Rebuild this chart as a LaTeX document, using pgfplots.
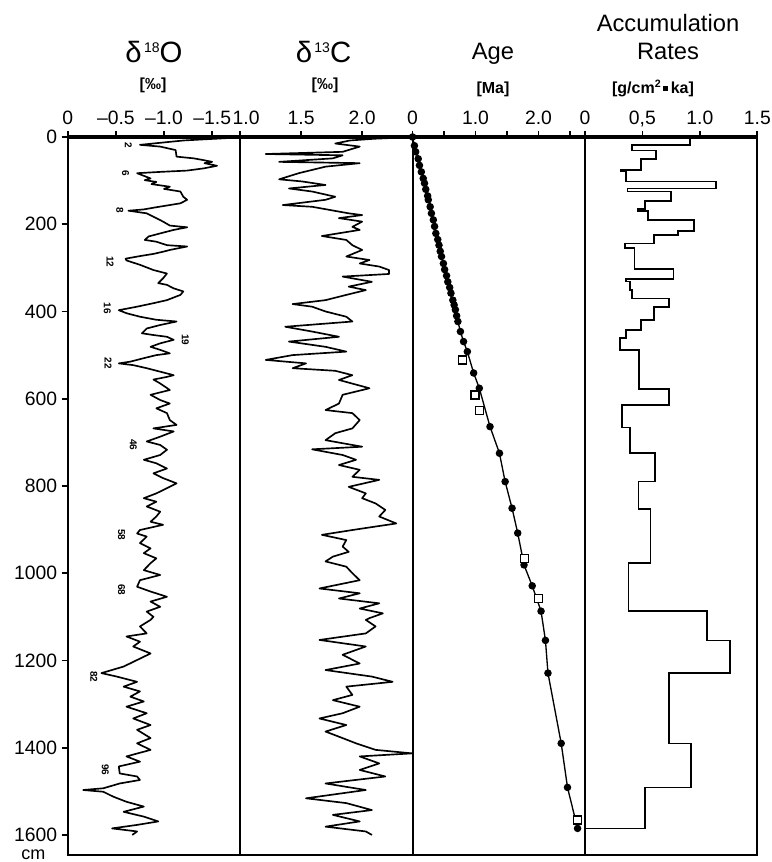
\documentclass[border=0pt]{standalone}
\usepackage{fontspec}
\setmainfont{Liberation Sans}
\usepackage{pgfplots}
\pgfplotsset{compat=1.18}
\begin{document}
\begin{tikzpicture}[x=1pt,y=1pt]
\useasboundingbox (0,0) rectangle (578.25,646.5);
\pgfplotsset{
  panel/.style={
    scale only axis, width=129.3pt, height=538.5pt,
    anchor=north west,
    y dir=reverse, ymin=0, ymax=1646,
    axis line style={line width=1.5pt},
    xtick pos=right, xticklabel pos=right,
    tick align=outside, major tick length=4.5pt,
    every tick/.style={black, line width=1.3pt},
    ticklabel style={font=\fontsize{14.5}{17}\selectfont},
    xticklabel style={text depth=3.6pt, yshift=-2.1pt},
    scaled ticks=false,
    ytick=\empty,
  },
  curve/.style={black, line width=1.25pt, line join=round, no marks},
}
% ---- delta 18O ----
\begin{axis}[panel, at={(50.8pt,543.75pt)},
  x dir=reverse, xmin=-1.79, xmax=0,
  xtick={0,-0.5,-1,-1.5}, xticklabels={0,\textendash0.5,\textendash1.0,\textendash1.5},
  ytick={0,200,400,600,800,1000,1200,1400,1600},
  yticklabels={0,200,400,600,800,1000,1200,1400,1600},
  ytick pos=left, yticklabel pos=left]
\addplot[curve] coordinates {
(-1.70,2) (-1.20,8) (-0.75,18) (-0.96,22) (-1.12,30) (-1.13,45) (-1.31,49) (-1.41,53) (-1.50,57) (-1.42,60) (-1.55,66) (-1.41,72) (-1.24,77) (-0.96,80) (-0.72,83)
(-0.86,95) (-0.80,99) (-0.92,103) (-0.87,108) (-1.06,114) (-1.00,119) (-1.17,125) (-1.20,137) (-1.24,144) (-1.17,152) (-1.06,156) (-0.92,161) (-0.79,166) (-0.63,169)
(-0.82,175) (-0.92,186) (-0.99,194) (-1.06,203) (-1.24,207) (-1.10,213) (-0.96,221) (-0.84,228) (-0.80,236) (-0.92,240) (-1.03,248) (-1.24,251) (-1.06,259) (-0.99,263) (-0.89,268) (-0.75,273) (-0.60,279) (-0.61,283) (-0.75,293) (-0.89,305) (-0.96,309) (-1.03,313) (-0.99,324) (-0.94,335) (-1.03,339) (-1.10,347) (-1.20,354) (-1.17,362) (-1.03,374) (-0.89,381) (-0.72,389) (-0.53,397) (-0.61,404) (-0.75,412) (-0.92,419) (-1.13,423) (-0.96,431) (-0.82,439) (-0.77,450) (-0.89,454) (-1.03,458) (-1.10,465) (-0.96,473) (-0.86,481) (-0.96,488) (-1.06,496) (-0.92,500) (-0.79,507) (-0.65,515) (-0.53,519) (-0.68,523) (-0.82,530) (-0.96,538) (-1.10,546) (-1.03,550) (-0.89,556)
(-0.96,565) (-1.06,580) (-0.86,591) (-0.96,603) (-1.06,611) (-0.92,622) (-1.03,633) (-1.06,649) (-1.13,660) (-0.89,668) (-1.10,675) (-0.96,687) (-0.82,698) (-0.96,706) (-1.03,717) (-0.96,729) (-0.79,740) (-0.92,748) (-1.03,760) (-0.89,771) (-0.99,782) (-1.13,794) (-1.03,805) (-0.92,817) (-0.79,828) (-0.92,836) (-0.82,847) (-0.96,859) (-0.92,870) (-0.86,882) (-0.99,889) (-0.75,901) (-0.72,909) (-0.82,916) (-0.75,931) (-0.86,943) (-0.79,954) (-0.92,966) (-0.86,977) (-0.79,993) (-0.96,1004) (-0.75,1016) (-0.72,1031) (-0.86,1042) (-1.03,1054) (-0.86,1065) (-0.96,1077) (-0.82,1088) (-0.89,1100)
(-0.86,1107) (-0.75,1122) (-0.82,1138) (-0.61,1145) (-0.75,1157) (-0.68,1168) (-0.86,1184) (-0.72,1199) (-0.58,1214) (-0.35,1229) (-0.51,1237) (-0.72,1249) (-0.58,1260) (-0.75,1271) (-0.65,1283) (-0.79,1294) (-0.61,1306) (-0.82,1321) (-0.68,1333) (-0.86,1348) (-0.72,1359) (-0.86,1378) (-0.72,1390) (-0.86,1405) (-0.61,1420) (-0.75,1432) (-0.53,1443) (-0.54,1459) (-0.72,1466) (-0.75,1474) (-0.54,1482) (-0.37,1493) (-0.16,1497) (-0.37,1501) (-0.47,1512) (-0.61,1524) (-0.79,1535) (-0.58,1547) (-0.79,1558) (-0.94,1569) (-0.72,1577) (-0.46,1585) (-0.72,1592) (-0.67,1600)
};
\begin{scope}[every node/.style={rotate=-90, font=\fontsize{7.5}{9}\selectfont\bfseries, inner sep=0pt}]
\node at (axis cs:-0.63,18) {2};
\node at (axis cs:-0.60,83) {6};
\node at (axis cs:-0.54,167) {8};
\node at (axis cs:-0.44,286) {12};
\node at (axis cs:-0.41,393) {16};
\node at (axis cs:-1.22,465) {19};
\node at (axis cs:-0.42,519) {22};
\node at (axis cs:-0.68,706) {46};
\node at (axis cs:-0.56,912) {58};
\node at (axis cs:-0.56,1038) {68};
\node at (axis cs:-0.27,1237) {82};
\node at (axis cs:-0.39,1451) {96};
\end{scope}
\end{axis}
% ---- delta 13C ----
\begin{axis}[panel, at={(180.1pt,543.75pt)},
  xmin=1.0, xmax=2.413,
  xtick={1,1.5,2}, xticklabels={\hspace*{9pt}1.0,1.5,2.0}]
\addplot[curve] coordinates {
(2.35,1) (2.10,4) (1.90,8) (1.78,15) (1.98,22) (1.84,34) (1.21,39) (1.84,42) (1.76,49) (1.32,57) (1.98,60) (1.70,68) (1.48,83) (1.32,97) (1.51,102) (1.70,110) (1.40,118) (1.59,125) (1.78,137) (1.70,144) (1.35,156) (1.59,160) (1.73,167) (1.89,175) (2.00,179) (1.81,186) (2.00,194) (1.92,206) (1.98,213) (1.67,227) (1.87,236) (1.92,248) (2.00,259) (1.87,274) (2.06,282) (1.98,290) (2.14,297) (2.22,305) (2.22,314) (1.84,320) (2.08,332) (1.89,343) (2.03,351) (1.87,362) (1.70,374) (1.43,383) (1.59,389) (1.70,400) (1.87,412) (1.92,423) (1.37,435) (1.59,446) (1.81,458) (1.40,469) (1.70,481) (1.87,492) (1.43,500) (1.21,511) (1.54,519) (1.43,530) (1.78,536) (1.92,546) (1.81,557) (2.06,576) (1.84,591) (1.81,611) (1.70,626) (1.92,633) (1.98,649) (1.92,668) (1.78,679) (1.70,695) (2.00,710) (1.59,716) (1.84,729) (1.95,740) (1.81,752) (1.98,763) (1.92,779) (2.14,786) (1.89,802) (2.03,817) (2.00,828) (2.11,840) (2.19,855) (2.14,870) (2.28,886) (2.11,893) (1.92,901) (1.67,912) (1.87,924) (1.84,939) (1.89,951) (1.76,962) (1.70,973) (1.87,985) (1.92,1000) (1.98,1016) (1.65,1035) (1.98,1046) (1.81,1058) (2.14,1069) (1.98,1081) (2.17,1092) (2.06,1103) (2.03,1107) (2.11,1122) (2.03,1138) (1.65,1153) (2.03,1168) (1.84,1187) (1.98,1207) (1.70,1222) (2.08,1237) (2.25,1249) (1.87,1260) (1.92,1279) (1.76,1291) (1.98,1306) (1.84,1321) (1.65,1333) (1.87,1348) (1.70,1363) (1.84,1378) (1.95,1390) (2.11,1405) (2.41,1413) (1.98,1420) (2.14,1436) (1.98,1451) (2.19,1466) (1.70,1482) (2.03,1497) (1.54,1516) (1.87,1527) (2.08,1543) (1.76,1554) (1.98,1569) (1.70,1581) (2.03,1592) (2.08,1600)
};
\end{axis}
% ---- Age ----
\begin{axis}[panel, at={(309.4pt,543.75pt)},
  xmin=0, xmax=2.737,
  xtick={0,0.5,1,1.5,2,2.5}, xticklabels={0,,1.0,,2.0,}, clip=false]
\addplot[black, line width=1pt, mark=*, mark size=2.3pt, mark options={fill=black}] coordinates {
(0,0) (0.03,20) (0.05,34) (0.09,50) (0.11,65) (0.14,80) (0.17,95) (0.19,106) (0.21,120) (0.24,135) (0.25,144) (0.28,160) (0.30,175) (0.33,190) (0.35,205) (0.37,221) (0.40,235) (0.42,248) (0.44,262) (0.46,274) (0.49,290) (0.51,304) (0.54,318) (0.56,332) (0.59,345) (0.61,358) (0.64,374) (0.66,385) (0.68,396) (0.70,410) (0.72,423) (0.76,446) (0.81,469) (0.87,492) (0.97,541) (1.06,576) (1.23,664) (1.38,725) (1.47,790) (1.58,851) (1.67,908) (1.77,981) (1.90,1029) (2.04,1087) (2.11,1154) (2.15,1229) (2.36,1390) (2.46,1491) (2.62,1585)
};
\addplot[only marks, black, mark=square*, mark size=3pt, mark options={fill=white, line width=1.1pt}] coordinates {
(0.79,511) (0.99,591) (1.06,627) (1.78,966) (2.00,1058) (2.62,1566)
};
\end{axis}
% ---- Accumulation rates ----
\begin{axis}[panel, at={(438.7pt,543.75pt)},
  xmin=0, xmax=1.5,
  xtick={0,0.5,1,1.5}, xticklabels={0,{0,5},1.0,1.5}]
\addplot[black, line width=1.25pt, line join=miter, no marks] coordinates {
(0.915,0) (0.915,18) (0.41,18) (0.41,31) (0.62,31) (0.62,51) (0.49,51) (0.49,76) (0.31,76) (0.31,79) (0.36,79) (0.36,102) (1.14,102) (1.14,118) (0.37,118) (0.37,125) (0.75,125) (0.75,146) (0.52,146) (0.52,165) (0.46,165) (0.46,170) (0.55,170) (0.55,190) (0.95,190) (0.95,215) (0.81,215) (0.81,225) (0.60,225) (0.60,244) (0.35,244) (0.35,255) (0.43,255) (0.43,303) (0.77,303) (0.77,326) (0.355,326) (0.355,331) (0.39,331) (0.39,351) (0.41,351) (0.41,370) (0.73,370) (0.73,389) (0.60,389) (0.60,419) (0.49,419) (0.49,442) (0.36,442) (0.36,461) (0.305,461) (0.305,488) (0.47,488) (0.47,578) (0.73,578) (0.73,615) (0.32,615) (0.32,666) (0.39,666) (0.39,725) (0.61,725) (0.61,790) (0.465,790) (0.465,853) (0.57,853) (0.57,976) (0.38,976) (0.38,1086) (1.06,1086) (1.06,1154) (1.26,1154) (1.26,1228) (0.73,1228) (0.73,1390) (0.92,1390) (0.92,1491) (0.52,1491) (0.52,1585) (0,1585)
};
\end{axis}
% thick top line
\draw[line width=2.4pt] (50.8,543.75) -- (568,543.75);
% titles
\node[anchor=base, font=\fontsize{22}{26}\selectfont] at (115.5,599.25) {δ\hspace{0.08em}\raisebox{7.8pt}{\fontsize{10.5}{12}\selectfont 18}O};
\node[anchor=base, font=\fontsize{12}{14}\selectfont\bfseries] at (114.75,579.3) {[‰]};
\node[anchor=base, font=\fontsize{22}{26}\selectfont] at (242.6,599.25) {δ\hspace{0.08em}\raisebox{7.8pt}{\fontsize{10.5}{12}\selectfont 13}C};
\node[anchor=base, font=\fontsize{12}{14}\selectfont\bfseries] at (243.75,579.3) {[‰]};
\node[anchor=base, font=\fontsize{17.8}{21}\selectfont] at (369.75,601.5) {Age};
\node[anchor=base, font=\fontsize{12}{14}\selectfont\bfseries] at (369.75,576.3) {[Ma]};
\node[anchor=base, font=\fontsize{17.8}{21}\selectfont] at (501,622.5) {Accumulation};
\node[anchor=base, font=\fontsize{17.8}{21}\selectfont] at (501,601.5) {Rates};
\node[anchor=base, font=\fontsize{12}{14}\selectfont\bfseries] at (489.75,576.3) {[g/cm\raisebox{0.35em}{\fontsize{8}{9}\selectfont 2}\,\raisebox{0.15em}{\rule{0.3em}{0.3em}}\,ka]};
\node[anchor=base, font=\fontsize{13.5}{16}\selectfont] at (25,2.0) {cm};
\end{tikzpicture}
\end{document}
